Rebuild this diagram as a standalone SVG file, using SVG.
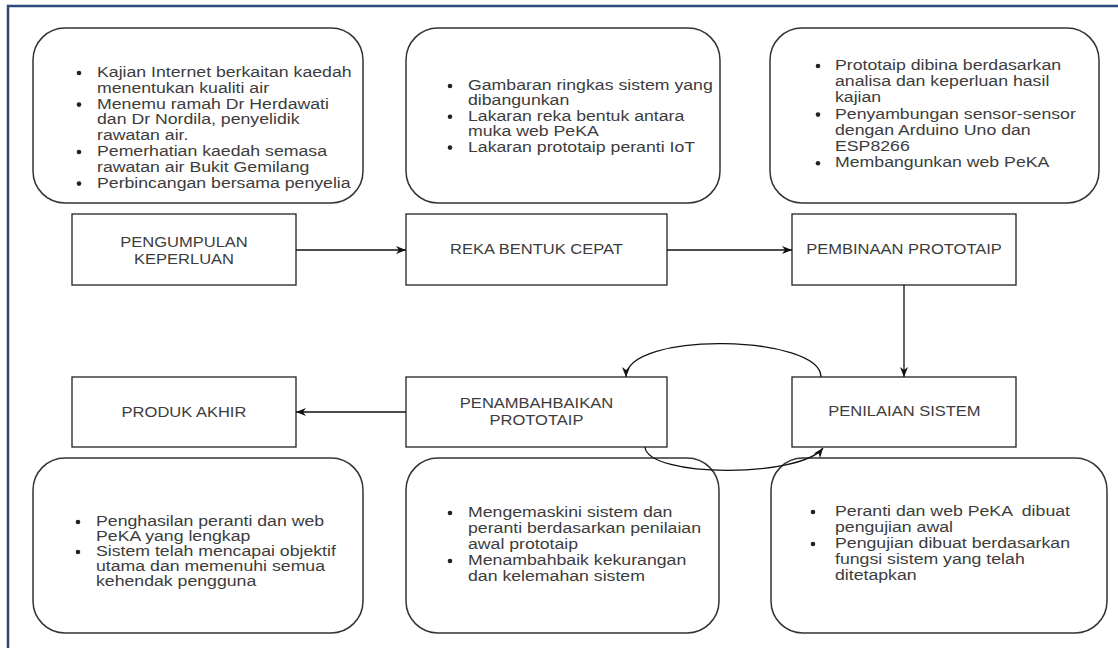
<svg xmlns="http://www.w3.org/2000/svg" width="1118" height="648" viewBox="0 0 1118 648">
<style>
.bg{fill:#fff}
.frame{fill:none;stroke:#2e4a7a;stroke-width:2.5}
.rbox{fill:#fff;stroke:#333;stroke-width:1.5}
.box{fill:#fff;stroke:#222;stroke-width:1.3}
.lbl{font-family:"Liberation Sans",Arial,sans-serif;font-size:14.5px;fill:#3c3c3c;text-anchor:middle}
.bt{font-family:"Liberation Sans",Arial,sans-serif;font-size:15px;fill:#3c3c3c}
.dot{fill:#222}
.edge{fill:none;stroke:#111;stroke-width:1.3}
</style>
<defs>
<marker id="arr" viewBox="0 0 10 10" refX="10" refY="5" markerWidth="10" markerHeight="10" markerUnits="userSpaceOnUse" orient="auto">
<path d="M0,1 L10,5 L0,9 L3,5 Z" fill="#111"/>
</marker>
</defs>
<rect class="bg" x="0" y="0" width="1118" height="648"/>
<rect class="frame" x="8" y="6" width="1130" height="660"/>

<g id="note-tl">
<rect class="rbox" x="33" y="28" width="330" height="175" rx="32" ry="32"/>
<circle class="dot" cx="79" cy="73" r="2.3"/>
<circle class="dot" cx="79" cy="104.6" r="2.3"/>
<circle class="dot" cx="79" cy="152" r="2.3"/>
<circle class="dot" cx="79" cy="183.6" r="2.3"/>
<g transform="translate(97 0) scale(1.18 1)">
<text class="bt" x="0" y="77">Kajian Internet berkaitan kaedah</text>
<text class="bt" x="0" y="92.8">menentukan kualiti air</text>
<text class="bt" x="0" y="108.6">Menemu ramah Dr Herdawati</text>
<text class="bt" x="0" y="124.4">dan Dr Nordila, penyelidik</text>
<text class="bt" x="0" y="140.2">rawatan air.</text>
<text class="bt" x="0" y="156">Pemerhatian kaedah semasa</text>
<text class="bt" x="0" y="171.8">rawatan air Bukit Gemilang</text>
<text class="bt" x="0" y="187.6">Perbincangan bersama penyelia</text>
</g>
</g>

<g id="note-tm">
<rect class="rbox" x="406" y="28" width="314" height="175" rx="32" ry="32"/>
<circle class="dot" cx="450" cy="86" r="2.3"/>
<circle class="dot" cx="450" cy="116.8" r="2.3"/>
<circle class="dot" cx="450" cy="147.6" r="2.3"/>
<g transform="translate(468 0) scale(1.18 1)">
<text class="bt" x="0" y="90">Gambaran ringkas sistem yang</text>
<text class="bt" x="0" y="105.4">dibangunkan</text>
<text class="bt" x="0" y="120.8">Lakaran reka bentuk antara</text>
<text class="bt" x="0" y="136.2">muka web PeKA</text>
<text class="bt" x="0" y="151.6">Lakaran prototaip peranti IoT</text>
</g>
</g>

<g id="note-tr">
<rect class="rbox" x="770" y="28" width="329" height="175" rx="32" ry="32"/>
<circle class="dot" cx="818" cy="66" r="2.3"/>
<circle class="dot" cx="818" cy="114.6" r="2.3"/>
<circle class="dot" cx="818" cy="163.2" r="2.3"/>
<g transform="translate(835 0) scale(1.18 1)">
<text class="bt" x="0" y="70">Prototaip dibina berdasarkan</text>
<text class="bt" x="0" y="86.2">analisa dan keperluan hasil</text>
<text class="bt" x="0" y="102.4">kajian</text>
<text class="bt" x="0" y="118.6">Penyambungan sensor-sensor</text>
<text class="bt" x="0" y="134.8">dengan Arduino Uno dan</text>
<text class="bt" x="0" y="151">ESP8266</text>
<text class="bt" x="0" y="167.2">Membangunkan web PeKA</text>
</g>
</g>

<g id="n-pengumpulan">
<rect class="box" x="72" y="214" width="224" height="71"/>
<text class="lbl" transform="scale(1.14 1)" x="161.4" y="247">PENGUMPULAN</text>
<text class="lbl" transform="scale(1.14 1)" x="161.4" y="264">KEPERLUAN</text>
</g>
<g id="n-rekabentuk">
<rect class="box" x="406" y="214" width="261" height="71"/>
<text class="lbl" transform="scale(1.14 1)" x="470.6" y="254.5">REKA BENTUK CEPAT</text>
</g>
<g id="n-pembinaan">
<rect class="box" x="792" y="214" width="224" height="71"/>
<text class="lbl" transform="scale(1.14 1)" x="793" y="254.5">PEMBINAAN PROTOTAIP</text>
</g>
<g id="n-produk">
<rect class="box" x="72" y="377" width="224" height="70"/>
<text class="lbl" transform="scale(1.14 1)" x="161.4" y="417.5">PRODUK AKHIR</text>
</g>
<g id="n-penambahbaikan">
<rect class="box" x="406" y="377" width="261" height="70"/>
<text class="lbl" transform="scale(1.14 1)" x="470.6" y="408.5">PENAMBAHBAIKAN</text>
<text class="lbl" transform="scale(1.14 1)" x="470.6" y="425.5">PROTOTAIP</text>
</g>
<g id="n-penilaian">
<rect class="box" x="792" y="377" width="224" height="70"/>
<text class="lbl" transform="scale(1.14 1)" x="793.4" y="416.5">PENILAIAN SISTEM</text>
</g>

<g id="note-bl">
<rect class="rbox" x="33" y="458" width="330" height="175" rx="32" ry="32"/>
<circle class="dot" cx="78" cy="522" r="2.3"/>
<circle class="dot" cx="78" cy="552" r="2.3"/>
<g transform="translate(96 0) scale(1.18 1)">
<text class="bt" x="0" y="526">Penghasilan peranti dan web</text>
<text class="bt" x="0" y="541">PeKA yang lengkap</text>
<text class="bt" x="0" y="556">Sistem telah mencapai objektif</text>
<text class="bt" x="0" y="571">utama dan memenuhi semua</text>
<text class="bt" x="0" y="586">kehendak pengguna</text>
</g>
</g>

<g id="note-bm">
<rect class="rbox" x="406" y="458" width="313" height="175" rx="32" ry="32"/>
<circle class="dot" cx="450" cy="513" r="2.3"/>
<circle class="dot" cx="450" cy="561" r="2.3"/>
<g transform="translate(468 0) scale(1.18 1)">
<text class="bt" x="0" y="517">Mengemaskini sistem dan</text>
<text class="bt" x="0" y="533">peranti berdasarkan penilaian</text>
<text class="bt" x="0" y="549">awal prototaip</text>
<text class="bt" x="0" y="565">Menambahbaik kekurangan</text>
<text class="bt" x="0" y="581">dan kelemahan sistem</text>
</g>
</g>

<g id="note-br">
<rect class="rbox" x="771" y="458" width="336" height="175" rx="32" ry="32"/>
<circle class="dot" cx="813" cy="512" r="2.3"/>
<circle class="dot" cx="813" cy="544" r="2.3"/>
<g transform="translate(835 0) scale(1.18 1)">
<text class="bt" x="0" y="516" style="white-space:pre">Peranti dan web PeKA  dibuat</text>
<text class="bt" x="0" y="532">pengujian awal</text>
<text class="bt" x="0" y="548">Pengujian dibuat berdasarkan</text>
<text class="bt" x="0" y="564">fungsi sistem yang telah</text>
<text class="bt" x="0" y="580">ditetapkan</text>
</g>
</g>

<g id="connectors">
<path class="edge" d="M296 250 H406" marker-end="url(#arr)"/>
<path class="edge" d="M667 250 H792" marker-end="url(#arr)"/>
<path class="edge" d="M904 285 V377" marker-end="url(#arr)"/>
<path class="edge" d="M406 412 H296" marker-end="url(#arr)"/>
<path class="edge" d="M821 377 C821 335 626 330 626 377" marker-end="url(#arr)"/>
<path class="edge" d="M645 447 C648 478 800 478 823 448" marker-end="url(#arr)"/>
</g>
</svg>
